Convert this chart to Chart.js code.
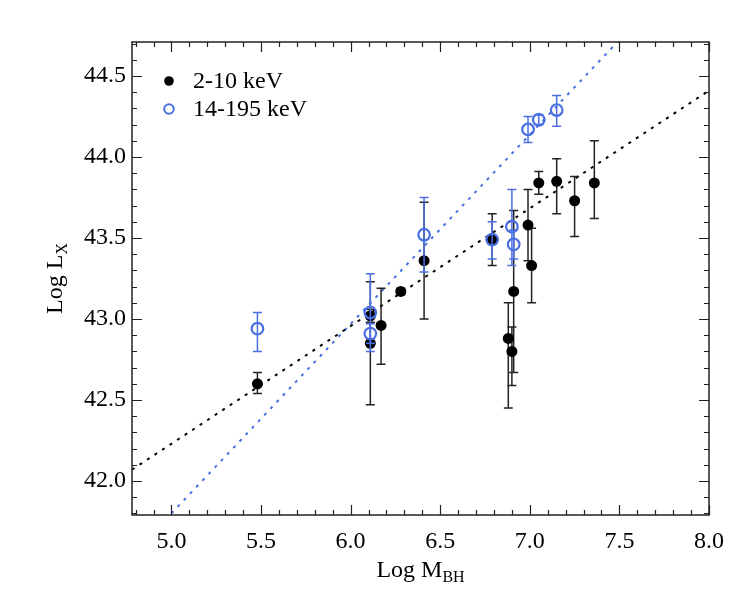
<!DOCTYPE html>
<html>
<head>
<meta charset="utf-8">
<script src="https://cdn.jsdelivr.net/npm/chart.js@4.4.0/dist/chart.umd.min.js"></script>
<style>
  html, body { margin: 0; padding: 0; background: #fff; }
</style>
</head>
<body>
<canvas id="chart" width="747" height="599"></canvas>
<script>
// 2-10 keV (filled black)
const softMass = [5.48, 6.11, 6.11, 6.17, 6.28, 6.41, 6.79, 6.88, 6.90, 6.91, 6.99, 7.01, 7.05, 7.15, 7.25, 7.36];
const softLum  = [42.60, 43.02, 42.85, 42.96, 43.17, 43.36, 43.49, 42.88, 42.80, 43.17, 43.58, 43.33, 43.84, 43.85, 43.73, 43.84];
const softLo   = [42.54, 42.98, 42.47, 42.72, 43.15, 43.00, 43.33, 42.45, 42.59, 42.67, 43.36, 43.10, 43.77, 43.65, 43.51, 43.62];
const softHi   = [42.67, 43.06, 43.23, 43.19, 43.19, 43.72, 43.65, 43.10, 42.95, 43.67, 43.80, 43.56, 43.91, 43.99, 43.88, 44.10];

// 14-195 keV (open blue)
const hardMass = [5.48, 6.11, 6.11, 6.41, 6.79, 6.90, 6.91, 6.99, 7.05, 7.15];
const hardLum  = [42.94, 43.04, 42.91, 43.52, 43.49, 43.57, 43.46, 44.17, 44.23, 44.29];
const hardLo   = [42.80, 42.80, 42.85, 43.29, 43.37, 43.33, 43.37, 44.09, 44.20, 44.19];
const hardHi   = [43.04, 43.28, 42.97, 43.75, 43.60, 43.80, 43.55, 44.25, 44.26, 44.38];

// fitted relations, end points
const softFitX = [4.78, 8.0];
const softFitY = [42.07, 44.41];
const hardFitX = [5.0, 7.6];
const hardFitY = [41.80, 44.84];

const xTickValues = [5.0, 5.5, 6.0, 6.5, 7.0, 7.5, 8.0];
const yTickValues = [42.0, 42.5, 43.0, 43.5, 44.0, 44.5];

const BLUE = '#4a6fe3';
const SERIF = '"Liberation Serif", "DejaVu Serif", serif';

function pts(xs, ys) { return xs.map((x, i) => ({x: x, y: ys[i]})); }

// error bars, drawn just before each point dataset
const errorBars = {
    id: 'errorBars',
    beforeDatasetDraw(chart, args) {
        const ds = chart.data.datasets[args.index];
        if (!ds.errLo) return;
        const {ctx, scales: {x, y}} = chart;
        ctx.save();
        ctx.strokeStyle = ds.errColor;
        ctx.lineWidth = 1.5;
        ds.data.forEach((p, i) => {
            const px = x.getPixelForValue(p.x);
            const lo = y.getPixelForValue(ds.errLo[i]);
            const hi = y.getPixelForValue(ds.errHi[i]);
            ctx.beginPath();
            ctx.moveTo(px, lo); ctx.lineTo(px, hi);
            ctx.moveTo(px - 4.5, lo); ctx.lineTo(px + 4.5, lo);
            ctx.moveTo(px - 4.5, hi); ctx.lineTo(px + 4.5, hi);
            ctx.stroke();
        });
        ctx.restore();
    }
};

// frame, inward ticks, axis titles with subscripts, legend
const decorations = {
    id: 'decorations',
    afterDraw(chart) {
        const {ctx, chartArea: a, scales: {x, y}} = chart;
        ctx.save();
        ctx.strokeStyle = '#222';
        ctx.lineWidth = 1.5;
        ctx.strokeRect(a.left, a.top, a.right - a.left, a.bottom - a.top);

        ctx.beginPath();
        for (let v = 4.8; v <= 8.001; v += 0.1) {
            const px = Math.round(x.getPixelForValue(v)) + 0.5;
            const major = Math.abs(v * 2 - Math.round(v * 2)) < 1e-6;
            const len = major ? 10 : 5;
            ctx.moveTo(px, a.bottom); ctx.lineTo(px, a.bottom - len);
            ctx.moveTo(px, a.top); ctx.lineTo(px, a.top + len);
        }
        for (let v = 41.8; v <= 44.701; v += 0.1) {
            const py = Math.round(y.getPixelForValue(v)) + 0.5;
            const major = Math.abs(v * 2 - Math.round(v * 2)) < 1e-6;
            const len = major ? 10 : 5;
            ctx.moveTo(a.left, py); ctx.lineTo(a.left + len, py);
            ctx.moveTo(a.right, py); ctx.lineTo(a.right - len, py);
        }
        ctx.lineWidth = 1.2;
        ctx.stroke();

        // axis titles
        ctx.fillStyle = '#000';
        ctx.textBaseline = 'alphabetic';
        const drawSub = (main, sub, cx, cy) => {
            ctx.font = '24px ' + SERIF;
            const w1 = ctx.measureText(main).width;
            ctx.font = '16px ' + SERIF;
            const w2 = ctx.measureText(sub).width;
            const start = cx - (w1 + w2) / 2;
            ctx.font = '24px ' + SERIF;
            ctx.textAlign = 'left';
            ctx.fillText(main, start, cy);
            ctx.font = '16px ' + SERIF;
            ctx.fillText(sub, start + w1, cy + 5);
        };
        drawSub('Log M', 'BH', (a.left + a.right) / 2, 577);
        ctx.save();
        ctx.translate(62, (a.top + a.bottom) / 2);
        ctx.rotate(-Math.PI / 2);
        drawSub('Log L', 'X', 0, 0);
        ctx.restore();

        // legend
        let ly = 81;
        chart.data.datasets.forEach(ds => {
            if (!ds.inLegend) return;
            ctx.beginPath();
            ctx.arc(169, ly, 4.8, 0, Math.PI * 2);
            if (ds.pointBackgroundColor !== 'transparent') {
                ctx.fillStyle = ds.pointBackgroundColor;
                ctx.fill();
            } else {
                ctx.strokeStyle = ds.pointBorderColor;
                ctx.lineWidth = 2;
                ctx.stroke();
            }
            ctx.fillStyle = '#000';
            ctx.font = '24px ' + SERIF;
            ctx.textAlign = 'left';
            ctx.textBaseline = 'middle';
            ctx.fillText(ds.label, 193, ly + 1);
            ly += 28;
        });
        ctx.restore();
    }
};

new Chart(document.getElementById('chart'), {
    type: 'scatter',
    data: {
        datasets: [
            {
                label: '2-10 keV',
                inLegend: true,
                data: pts(softMass, softLum),
                errLo: softLo, errHi: softHi, errColor: '#222',
                pointRadius: 5.5,
                pointBorderWidth: 0,
                pointBackgroundColor: '#000',
                pointBorderColor: '#000',
                order: 1
            },
            {
                label: '14-195 keV',
                inLegend: true,
                data: pts(hardMass, hardLum),
                errLo: hardLo, errHi: hardHi, errColor: BLUE,
                pointRadius: 5.8,
                pointBorderWidth: 2.2,
                pointBorderColor: BLUE,
                pointBackgroundColor: 'transparent',
                order: 0
            },
            {
                label: 'fit 2-10',
                data: pts(softFitX, softFitY),
                showLine: true,
                pointRadius: 0,
                borderColor: '#000',
                borderWidth: 2,
                borderDash: [3, 6],
                order: 2
            },
            {
                label: 'fit 14-195',
                data: pts(hardFitX, hardFitY),
                showLine: true,
                pointRadius: 0,
                borderColor: BLUE,
                borderWidth: 2,
                borderDash: [3, 6],
                order: 3
            }
        ]
    },
    options: {
        responsive: false,
        animation: false,
        layout: { padding: { left: 0, top: 42, right: 38, bottom: 0 } },
        plugins: { legend: { display: false }, tooltip: { enabled: false } },
        scales: {
            x: {
                type: 'linear',
                min: 4.78, max: 8.0,
                afterBuildTicks: s => { s.ticks = xTickValues.map(v => ({value: v})); },
                afterFit: s => { s.height = 84; },
                grid: { display: false, drawTicks: false },
                border: { display: false },
                ticks: {
                    padding: 12,
                    color: '#000',
                    font: { family: SERIF, size: 24 },
                    callback: v => Number(v).toFixed(1)
                }
            },
            y: {
                type: 'linear',
                min: 41.79, max: 44.71,
                afterBuildTicks: s => { s.ticks = yTickValues.map(v => ({value: v})); },
                afterFit: s => { s.width = 132; },
                grid: { display: false, drawTicks: false },
                border: { display: false },
                ticks: {
                    padding: 6,
                    color: '#000',
                    font: { family: SERIF, size: 24 },
                    callback: v => Number(v).toFixed(1)
                }
            }
        }
    },
    plugins: [errorBars, decorations]
});
</script>
</body>
</html>
